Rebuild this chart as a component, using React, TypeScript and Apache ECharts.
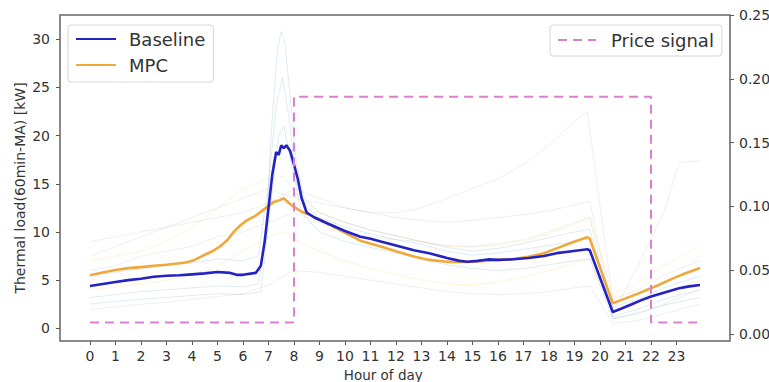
import React, { useEffect, useRef } from "react";
import * as echarts from "echarts";

// ---- data (hour of day, value) ----
const xTicks = [0, 23]; // first / last labelled hour
const dataHourEnd = 23.95; // right end of the data range
const leftTicks = [0, 30, 5]; // min, max, step  (thermal load kW)
const rightTicks = [0, 0.25, 0.05]; // min, max, step (price)

const baseline: number[][] = [
  [0, 4.4], [0.5, 4.6], [1, 4.8], [1.5, 5.0], [2, 5.15], [2.5, 5.35], [3, 5.45], [3.5, 5.5],
  [4, 5.6], [4.5, 5.7], [5, 5.85], [5.5, 5.75], [5.75, 5.55], [6, 5.55], [6.5, 5.75], [6.7, 6.5],
  [6.85, 9], [7, 12.5], [7.15, 16], [7.3, 18.3], [7.4, 18.0], [7.5, 19.0], [7.6, 18.7], [7.7, 19.0],
  [7.85, 18.4], [8.0, 17.0], [8.15, 15.5], [8.3, 13.5], [8.5, 12.0], [8.8, 11.5], [9.3, 10.9],
  [10, 10.1], [10.6, 9.5], [11, 9.3], [11.4, 9.0], [12, 8.6], [12.7, 8.1], [13.3, 7.8], [14, 7.3],
  [14.5, 7.0], [14.8, 6.9], [15.2, 7.0], [15.6, 7.15], [16, 7.1], [16.5, 7.15], [17.2, 7.3],
  [17.8, 7.5], [18.3, 7.8], [18.9, 8.0], [19.5, 8.2], [19.6, 8.1], [20.5, 1.7], [20.8, 2.0],
  [21.2, 2.45], [21.6, 2.9], [22, 3.3], [22.5, 3.7], [23.1, 4.15], [23.5, 4.35], [23.92, 4.5],
];

const mpc: number[][] = [
  [0, 5.5], [0.5, 5.8], [1, 6.05], [1.5, 6.25], [2, 6.35], [2.5, 6.5], [3, 6.6], [3.5, 6.75],
  [3.8, 6.85], [4.1, 7.1], [4.4, 7.5], [4.8, 8.0], [5.1, 8.5], [5.4, 9.2], [5.6, 9.9], [5.9, 10.7],
  [6.15, 11.2], [6.5, 11.7], [6.9, 12.5], [7.2, 13.1], [7.45, 13.3], [7.6, 13.5], [7.8, 13.0],
  [8.0, 12.6], [8.3, 12.1], [8.6, 11.8], [9.3, 10.9], [10, 9.9], [10.6, 9.1], [11.4, 8.5], [12, 8.0],
  [12.7, 7.45], [13.3, 7.1], [14, 6.9], [14.8, 6.9], [15.5, 7.0], [16, 7.1], [16.6, 7.2],
  [17.25, 7.45], [17.8, 7.8], [18.3, 8.3], [18.9, 8.9], [19.5, 9.45], [19.6, 9.3], [20.5, 2.6],
  [20.9, 3.0], [21.4, 3.5], [21.8, 3.95], [22.3, 4.5], [22.8, 5.1], [23.2, 5.55], [23.6, 5.95],
  [23.92, 6.25],
];

const priceSignal: number[][] = [
  [0, 0.009], [8, 0.186], [22, 0.009], [23.85, 0.009],
];

// faint individual-day traces
const faintBlue1: number[][] = [
  [0, 3.2], [1, 3.5], [2, 3.8], [3, 4.0], [4, 4.2], [5, 4.4], [6, 4.3], [6.6, 4.6], [6.9, 10], [7.1, 20],
  [7.35, 29], [7.5, 30.8], [7.65, 29.5], [7.85, 24], [8.1, 17], [8.4, 13.5], [9, 12], [10, 11], [11, 10.2],
  [12, 9.6], [13, 9.0], [14, 8.4], [15, 8.0], [16, 8.3], [17, 8.8], [18, 9.4], [19, 10.0], [19.6, 10.3],
  [20.5, 1.2], [21.5, 2.0], [22.5, 3.0], [23.9, 4.0],
];
const faintBlue2: number[][] = [
  [0, 5.5], [1, 5.8], [2, 6.2], [3, 6.5], [4, 6.8], [5, 7.2], [6, 7.0], [6.6, 7.5], [7, 15], [7.3, 23],
  [7.55, 26], [7.8, 22], [8.1, 15], [8.5, 12.5], [9, 11.5], [10, 10.5], [11, 9.8], [12, 9.2], [13, 8.7],
  [14, 8.0], [15, 7.6], [16, 7.8], [17, 8.2], [18, 8.6], [19, 9.0], [19.6, 9.4], [20.5, 2.2], [21.5, 3.0],
  [22.5, 4.2], [23.9, 5.4],
];
const faintBlue3: number[][] = [
  [0, 2.5], [1, 2.8], [2, 3.0], [3, 3.2], [4, 3.4], [5, 3.6], [6, 3.5], [6.7, 3.8], [7.1, 13], [7.4, 20],
  [7.6, 21], [7.9, 17], [8.3, 12], [9, 10], [10, 9], [11, 8.4], [12, 7.8], [13, 7.2], [14, 6.6], [15, 6.2],
  [16, 6.0], [17, 6.2], [18, 6.6], [19, 7.0], [19.6, 7.2], [20.5, 1.0], [21.5, 1.6], [22.5, 2.4], [23.9, 3.2],
];
const faintGray1: number[][] = [
  [0, 7.5], [1, 8.5], [2, 9.5], [3, 10.5], [4, 11.5], [5, 12.5], [6, 13.5], [7, 14.5], [8, 13.5], [9, 13],
  [10, 12.5], [11, 12], [12, 12], [13, 12.5], [14, 13.5], [15, 14.5], [16, 15.5], [17, 17], [18, 19],
  [19, 21.5], [19.5, 22.5], [20.5, 3], [21.5, 4], [22.5, 5.5], [23.9, 7],
];
const faintGray2: number[][] = [
  [0, 9], [1, 9.5], [2, 10], [3, 10.5], [4, 11], [5, 11.5], [6, 12], [7, 13], [8, 14.5], [9, 13.5],
  [10, 12.5], [11, 12], [12, 11.5], [13, 11.2], [14, 11.0], [15, 11.2], [16, 11.5], [17, 11.8], [18, 12.2],
  [19, 12.8], [19.6, 13.2], [20.5, 1.5], [21.5, 6.5], [22.5, 12], [23.1, 17.2], [23.9, 17.4],
];
const faintGray3: number[][] = [
  [0, 2.0], [1, 2.2], [2, 2.5], [3, 2.7], [4, 3.0], [5, 3.3], [6, 3.6], [7, 4.5], [8, 6], [9, 5.8],
  [10, 5.4], [11, 5.0], [12, 4.6], [13, 4.2], [14, 3.8], [15, 3.6], [16, 3.5], [17, 3.6], [18, 3.8],
  [19, 4.2], [19.6, 4.4], [20.5, 0.5], [21.5, 0.8], [22.5, 1.5], [23.9, 2.5],
];
const faintGray4: number[][] = [
  [0, 6], [1, 6.5], [2, 7.5], [3, 8], [4, 8.5], [5, 9.5], [6, 10], [7, 11], [8, 12], [9, 11], [10, 10],
  [11, 9.5], [12, 9.2], [13, 9.0], [14, 8.6], [15, 8.5], [16, 8.8], [17, 9.2], [18, 10], [19, 11],
  [19.6, 11.5], [20.5, 1.0], [21.5, 1.5], [22.5, 2.5], [23.9, 4],
];
const faintOrange1: number[][] = [
  [0, 7], [1, 7.5], [2, 8], [3, 9], [4, 10.5], [5, 12.5], [6, 14.5], [7, 15.5], [7.6, 15.8], [8.2, 13.5],
  [9, 12], [10, 11], [11, 10.2], [12, 9.6], [13, 9.0], [14, 8.5], [15, 8.4], [16, 8.6], [17, 9.0],
  [18, 9.8], [19, 10.8], [19.6, 11.5], [20.5, 3.5], [21.5, 4.8], [22.5, 6.5], [23.9, 8.5],
];
const faintOrange2: number[][] = [
  [0, 4], [1, 4.3], [2, 4.6], [3, 5], [4, 5.5], [5, 6.5], [6, 8], [7, 9.5], [7.6, 10], [8.2, 9], [9, 8],
  [10, 7], [11, 6.2], [12, 5.6], [13, 5.0], [14, 4.6], [15, 4.5], [16, 4.8], [17, 5.3], [18, 6], [19, 6.8],
  [19.6, 7.2], [20.5, 1.8], [21.5, 2.6], [22.5, 3.6], [23.9, 5],
];

const FONT = "DejaVu Sans";
const FAINT_BLUE = "rgba(31,119,180,0.15)";
const FAINT_GRAY = "rgba(120,120,120,0.12)";
const FAINT_ORANGE = "rgba(255,165,0,0.15)";

function faint(data: number[][], color: string) {
  return {
    type: "line",
    xAxisIndex: 0,
    yAxisIndex: 0,
    data,
    symbol: "none",
    showSymbol: false,
    clip: false,
    silent: true,
    lineStyle: { color, width: 1 },
    z: 1,
  };
}

export default function App() {
  const ref = useRef<HTMLDivElement>(null);

  useEffect(() => {
    if (!ref.current) return;
    const chart = echarts.init(ref.current, null, { renderer: "svg" });
    const gridLeft = 90;
    const hourPx = 25.5; // pixels per hour
    const tickGridWidth = (xTicks[1] - xTicks[0]) * hourPx;
    const dataGridWidth = (dataHourEnd - xTicks[0]) * hourPx;
    const tickColor = "#555";
    const labelColor = "#333";

    const legendCommon = {
      orient: "vertical",
      top: 25,
      itemHeight: 14,
      borderColor: "#d6d6d6",
      borderWidth: 1,
      borderRadius: 3,
      backgroundColor: "rgba(255,255,255,0.85)",
      selectedMode: false,
      itemStyle: { opacity: 0 },
    };

    const hidden = {
      show: false,
      axisTick: { show: false },
      axisLabel: { show: false },
      axisLine: { show: false, onZero: false },
      splitLine: { show: false },
    };

    const option = {
      animation: false,
      backgroundColor: "#ffffff",
      textStyle: { fontFamily: FONT },
      grid: [
        // data grid: hours 0..23.95, thermal 0..30
        { left: gridLeft, width: dataGridWidth, top: 39.3, height: 289, outerBoundsMode: "none", containLabel: false },
        // price grid: 0..0.25
        { left: gridLeft, width: dataGridWidth, top: 15, height: 319, outerBoundsMode: "none", containLabel: false },
        // frame grid: carries the visible hour axis at the frame bottom
        { left: gridLeft, width: tickGridWidth, top: 15, height: 326, outerBoundsMode: "none", containLabel: false },
      ],
      xAxis: [
        { type: "value", gridIndex: 0, min: xTicks[0], max: dataHourEnd, ...hidden },
        { type: "value", gridIndex: 1, min: xTicks[0], max: dataHourEnd, ...hidden },
        {
          type: "value",
          gridIndex: 2,
          min: xTicks[0],
          max: xTicks[1],
          interval: 1,
          axisLine: { show: false, onZero: false },
          axisTick: { show: true, length: 4, lineStyle: { color: tickColor, width: 1 } },
          axisLabel: { fontSize: 14, color: labelColor, margin: 8, fontFamily: FONT },
          splitLine: { show: false },
          name: "Hour of day",
          nameLocation: "middle",
          nameGap: 26,
          nameTextStyle: { fontSize: 13.5, color: labelColor, fontFamily: FONT },
        },
      ],
      yAxis: [
        {
          type: "value",
          gridIndex: 0,
          min: leftTicks[0],
          max: leftTicks[1],
          interval: leftTicks[2],
          position: "left",
          offset: 30,
          axisLine: { show: false, onZero: false },
          axisTick: { show: true, length: 4, lineStyle: { color: tickColor, width: 1 } },
          axisLabel: { fontSize: 14, color: labelColor, margin: 10, fontFamily: FONT },
          splitLine: { show: false },
        },
        {
          type: "value",
          gridIndex: 1,
          min: rightTicks[0],
          max: rightTicks[1],
          interval: rightTicks[2],
          position: "right",
          offset: 730 - (gridLeft + dataGridWidth),
          axisLine: { show: false, onZero: false },
          axisTick: { show: true, length: 4, lineStyle: { color: tickColor, width: 1 } },
          axisLabel: {
            fontSize: 14,
            color: labelColor,
            margin: 9,
            fontFamily: FONT,
            formatter: (v: number) => v.toFixed(2),
          },
          splitLine: { show: false },
        },
        { type: "value", gridIndex: 2, min: 0, max: 1, ...hidden },
      ],
      legend: [
        {
          ...legendCommon,
          data: ["Baseline", "MPC"],
          left: 68,
          padding: [4, 8, 7, 7],
          itemGap: 6,
          itemWidth: 40,
          textStyle: { fontSize: 18, color: labelColor, fontFamily: FONT, padding: [0, 0, 0, 8], lineHeight: 20 },
        },
        {
          ...legendCommon,
          data: ["Price signal"],
          left: 550,
          padding: [5, 8, 6, 7],
          itemWidth: 38,
          textStyle: { fontSize: 18, color: labelColor, fontFamily: FONT, padding: [0, 0, 0, 10], lineHeight: 20 },
        },
      ],
      graphic: [
        {
          type: "rect",
          shape: { x: 60, y: 15, width: 670, height: 326 },
          style: { fill: "none", stroke: "#666", lineWidth: 1.5 },
          silent: true,
          z: 100,
        },
        {
          type: "text",
          x: 20,
          y: 188,
          rotation: Math.PI / 2,
          silent: true,
          style: {
            text: "Thermal load(60min-MA) [kW]",
            fontSize: 14,
            fontFamily: FONT,
            fill: labelColor,
            align: "center",
            verticalAlign: "middle",
          },
        },
      ],
      series: [
        faint(faintGray1, FAINT_GRAY),
        faint(faintGray2, FAINT_GRAY),
        faint(faintGray3, FAINT_GRAY),
        faint(faintGray4, FAINT_GRAY),
        faint(faintOrange1, FAINT_ORANGE),
        faint(faintOrange2, FAINT_ORANGE),
        faint(faintBlue1, FAINT_BLUE),
        faint(faintBlue2, FAINT_BLUE),
        faint(faintBlue3, FAINT_BLUE),
        {
          name: "MPC",
          type: "line",
          xAxisIndex: 0,
          yAxisIndex: 0,
          data: mpc,
          symbol: "none",
          showSymbol: false,
          clip: false,
          lineStyle: { color: "#f0a83a", width: 2.6 },
          itemStyle: { color: "#f0a83a" },
          z: 5,
        },
        {
          name: "Baseline",
          type: "line",
          xAxisIndex: 0,
          yAxisIndex: 0,
          data: baseline,
          symbol: "none",
          showSymbol: false,
          clip: false,
          lineStyle: { color: "#2323c4", width: 2.6 },
          itemStyle: { color: "#2323c4" },
          z: 6,
        },
        {
          name: "Price signal",
          type: "line",
          xAxisIndex: 1,
          yAxisIndex: 1,
          data: priceSignal,
          step: "end",
          symbol: "none",
          showSymbol: false,
          clip: false,
          lineStyle: { color: "#dd7fcf", width: 2, type: [9, 6] },
          itemStyle: { color: "#dd7fcf" },
          z: 7,
        },
      ],
    };

    chart.setOption(option as any);
    return () => {
      chart.dispose();
    };
  }, []);

  return (
    <div
      ref={ref}
      style={{ position: "absolute", left: 0, top: 0, width: 769, height: 382 }}
    />
  );
}
